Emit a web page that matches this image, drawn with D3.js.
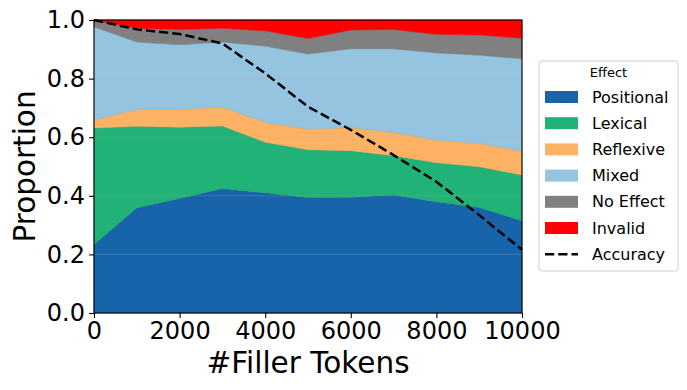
<!DOCTYPE html>
<html>
<head>
<meta charset="utf-8">
<script src="https://cdn.jsdelivr.net/npm/d3@7"></script>
<style>
  html, body { margin: 0; padding: 0; background: #fff; }
  svg { display: block; font-family: "DejaVu Sans", sans-serif; }
</style>
</head>
<body>
<svg id="chart" width="687" height="390"></svg>
<script>
// ---- data ----
const fillerTokens = [0, 1000, 2000, 3000, 4000, 5000, 6000, 7000, 8000, 9000, 10000];
const positional = [0.234, 0.359, 0.391, 0.425, 0.410, 0.394, 0.395, 0.403, 0.380, 0.360, 0.315];
const lexical    = [0.397, 0.278, 0.243, 0.213, 0.173, 0.163, 0.159, 0.134, 0.133, 0.139, 0.156];
const reflexive  = [0.028, 0.058, 0.061, 0.065, 0.068, 0.071, 0.079, 0.080, 0.077, 0.080, 0.082];
const mixed      = [0.318, 0.230, 0.221, 0.222, 0.260, 0.256, 0.269, 0.285, 0.298, 0.301, 0.315];
const noEffect   = [0.021, 0.047, 0.052, 0.047, 0.052, 0.053, 0.064, 0.066, 0.063, 0.069, 0.070];
const invalid    = [0.002, 0.028, 0.032, 0.028, 0.037, 0.063, 0.034, 0.032, 0.049, 0.051, 0.062];
const accuracy   = [1.000, 0.968, 0.952, 0.920, 0.818, 0.704, 0.625, 0.539, 0.448, 0.334, 0.216];

const seriesNames = ["Positional", "Lexical", "Reflexive", "Mixed", "No Effect", "Invalid"];
const seriesColors = ["#1764ab", "#20b276", "#fdb363", "#94c4e0", "#808080", "#ff0000"];
const xTicks = [0, 2000, 4000, 6000, 8000, 10000];
const yTicks = [0, 0.2, 0.4, 0.6, 0.8, 1.0];

// ---- layout ----
const svg = d3.select("#chart");
const mLeft = 94, mTop = 20, W = 428, H = 293;
const x = d3.scaleLinear().domain([0, 10000]).range([mLeft, mLeft + W]);
const y = d3.scaleLinear().domain([0, 1]).range([mTop + H, mTop]);

const seriesArrays = [positional, lexical, reflexive, mixed, noEffect, invalid];
const table = fillerTokens.map((t, i) => {
  const row = { t };
  seriesNames.forEach((n, k) => row[n] = seriesArrays[k][i]);
  return row;
});
const stacked = d3.stack().keys(seriesNames)(table);

const area = d3.area()
  .x(d => x(d.data.t))
  .y0(d => y(d[0]))
  .y1(d => y(d[1]));

const g = svg.append("g");
g.selectAll("path.layer").data(stacked).join("path")
  .attr("class", "layer")
  .attr("d", area)
  .attr("fill", (d, i) => seriesColors[i])
  .attr("stroke", (d, i) => d3.color(seriesColors[i]).darker(0.3))
  .attr("stroke-width", 0.5);

// horizontal grid
g.selectAll("line.grid").data(yTicks.slice(1, -1)).join("line")
  .attr("class", "grid")
  .attr("x1", mLeft).attr("x2", mLeft + W)
  .attr("y1", d => y(d)).attr("y2", d => y(d))
  .attr("stroke", "#b0b0b0").attr("stroke-opacity", 0.35).attr("stroke-width", 0.8);

// accuracy line
const line = d3.line().x((d, i) => x(fillerTokens[i])).y(d => y(d));
g.append("path").datum(accuracy)
  .attr("d", line)
  .attr("fill", "none")
  .attr("stroke", "#000")
  .attr("stroke-width", 2.5)
  .attr("stroke-dasharray", "9.25,4");

// frame
svg.append("rect").attr("x", mLeft).attr("y", mTop).attr("width", W).attr("height", H)
  .attr("fill", "none").attr("stroke", "#000").attr("stroke-width", 1.1);

// axes
const xAxis = d3.axisBottom(x).tickValues(xTicks).tickFormat(d3.format("d")).tickSize(5).tickPadding(4);
const yAxis = d3.axisLeft(y).tickValues(yTicks).tickFormat(d3.format(".1f")).tickSize(5).tickPadding(4);
const gx = svg.append("g").attr("transform", `translate(0,${mTop + H})`).call(xAxis);
const gy = svg.append("g").attr("transform", `translate(${mLeft},0)`).call(yAxis);
[gx, gy].forEach(a => {
  a.select(".domain").remove();
  a.selectAll(".tick line").attr("stroke", "#000").attr("stroke-width", 1.1);
  a.selectAll(".tick text").attr("fill", "#000").style("font-size", "24px")
    .style("font-family", "'DejaVu Sans', sans-serif");
});

// axis labels
svg.append("text").attr("x", mLeft + W / 2).attr("y", 373)
  .attr("text-anchor", "middle").style("font-size", "29.5px").attr("fill", "#000")
  .text("#Filler Tokens");
svg.append("text").attr("transform", `translate(35,${mTop + H / 2}) rotate(-90)`)
  .attr("text-anchor", "middle").style("font-size", "29.5px").attr("fill", "#000")
  .text("Proportion");

// legend
const lg = svg.append("g");
lg.append("rect").attr("x", 539).attr("y", 61).attr("width", 139).attr("height", 210)
  .attr("rx", 3).attr("fill", "#fff").attr("fill-opacity", 0.8)
  .attr("stroke", "#d0d0d0").attr("stroke-width", 1);
lg.append("text").attr("x", 608.5).attr("y", 72.5).attr("text-anchor", "middle")
  .attr("dominant-baseline", "central").style("font-size", "13px").attr("fill", "#000").text("Effect");
const rowY = i => 97 + i * 26.2;
seriesNames.forEach((n, i) => {
  lg.append("rect").attr("x", 545).attr("y", rowY(i) - 6).attr("width", 33).attr("height", 12)
    .attr("fill", seriesColors[i]);
  lg.append("text").attr("x", 592).attr("y", rowY(i)).attr("dominant-baseline", "central")
    .style("font-size", "16px").attr("fill", "#000").text(n);
});
lg.append("line").attr("x1", 545).attr("x2", 578).attr("y1", rowY(6)).attr("y2", rowY(6))
  .attr("stroke", "#000").attr("stroke-width", 2.5).attr("stroke-dasharray", "9.25,4");
lg.append("text").attr("x", 592).attr("y", rowY(6)).attr("dominant-baseline", "central")
  .style("font-size", "16px").attr("fill", "#000").text("Accuracy");
</script>
</body>
</html>
